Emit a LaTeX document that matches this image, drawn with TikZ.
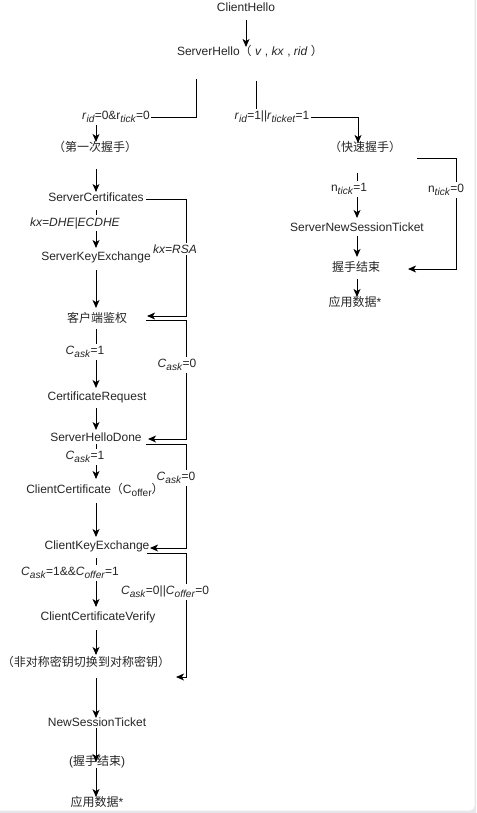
\documentclass[tikz,border=0pt]{standalone}
\usepackage{fontspec}
\setmainfont{Liberation Sans}
\newfontfamily\cjk{Noto Sans CJK SC}
\usetikzlibrary{arrows.meta,calc}
\newcommand\lsub[1]{\raisebox{-0.45ex}{\fontsize{7.6pt}{8pt}\selectfont #1}}
\definecolor{edgegray}{HTML}{E6E7EC}
\begin{document}
\begin{tikzpicture}[x=0.75pt,y=-0.75pt,
  txt/.style={font=\fontsize{9pt}{10.8pt}\selectfont, inner sep=0pt, text=black!85},
  lbl/.style={txt, fill=white, inner xsep=1pt, inner ysep=1.5pt},
  arr/.style={-{Stealth[length=6pt,width=5.2pt,inset=1.6pt]}, line width=0.75pt},
  ln/.style={line width=0.75pt}]
\useasboundingbox (0,0) rectangle (476,813);
\fill[white] (0,0) rectangle (476,813);
% faint frame at the right and bottom edges
\fill[edgegray] (474.6,0) -- (476,0) -- (476,813) -- (0,813) -- (0,810.6) -- (470,810.6) arc[start angle=90,end angle=0,radius=4.6] -- cycle;

% nodes
\node[txt] (ch) at (246,7) {ClientHello};
\node[txt] (sh) at (250,51) {ServerHello{\cjk （} \textit{v} , \textit{kx} , \textit{rid} {\cjk ）}};
\node[txt] (first) at (95,147) {\cjk （第一次握手）};
\node[txt] (fast) at (365,147) {\cjk （快速握手）};
\node[txt] (scert) at (96,197) {ServerCertificates};
\node[txt] (ske) at (96,257) {ServerKeyExchange};
\node[txt] (auth) at (97,318) {\cjk 客户端鉴权};
\node[txt] (creq) at (97,397) {CertificateRequest};
\node[txt] (shd) at (96,437) {ServerHelloDone};
\node[txt] (ccert) at (95,490) {ClientCertificate{\cjk （}C\lsub{offer}{\cjk ）}};
\node[txt] (cke) at (97,546) {ClientKeyExchange};
\node[txt] (ccv) at (98,617) {ClientCertificateVerify};
\node[txt] (switch) at (86,662) {\cjk （非对称密钥切换到对称密钥）};
\node[txt] (nst) at (97,722) {NewSessionTicket};
\node[txt] (hsend) at (97,762) {({\cjk 握手结束})};
\node[txt] (appdata) at (97,802) {{\cjk 应用数据}*};
\node[txt] (snst) at (357,227) {ServerNewSessionTicket};
\node[txt] (fend) at (356,267) {\cjk 握手结束};
\node[txt] (fapp) at (355,302) {{\cjk 应用数据}*};

% ClientHello -> ServerHello
\draw[arr] ($(ch)+(0,13)$) -- ($(ch)+(0,40)$);

% ServerHello -> first handshake
\draw[arr] ($(sh)+(-54,28)$) -- ($(sh)+(-54,67)$) -| ($(first)+(1,-5)$);
\node[lbl] at (116,117) {\textit{r}\lsub{\textit{id}}=0\&r\lsub{\textit{tick}}=0};

% ServerHello -> fast handshake
\draw[arr] ($(sh)+(6,30)$) -- ($(sh)+(6,67)$) -| ($(fast)+(-7,-4)$);
\node[lbl] at (272,117) {\textit{r}\lsub{\textit{id}}=1||\textit{r}\lsub{\textit{ticket}}=1};

% left column
\draw[arr] ($(first)+(1,22)$) -- ($(scert)+(0,-5)$);
\draw[arr] ($(scert)+(0,13)$) -- ($(ske)+(0,-9)$);
\node[lbl] at (75,223) {\textit{kx=DHE|ECDHE}};
\draw[arr] ($(scert)+(50,2)$) -| ($(auth)+(89,-2)$) -- ($(auth)+(50,-2)$);
\node[lbl] at (175,249) {\textit{kx=RSA}};
\draw[arr] ($(ske)+(0,13)$) -- ($(auth)+(-1,-10)$);
\draw[arr] ($(auth)+(-1,11)$) -- ($(creq)+(-1,-9)$);
\node[lbl] at (85,352) {\textit{C}\lsub{\textit{ask}}=1};
\draw[arr] ($(auth)+(49,2)$) -| ($(shd)+(90,2)$) -- ($(shd)+(52,2)$);
\node[lbl] at (177,365) {\textit{C}\lsub{\textit{ask}}=0};
\draw[arr] ($(creq)+(-1,11)$) -- ($(shd)+(0,-7)$);
\draw[arr] ($(shd)+(0,7)$) -- ($(ccert)+(1,-11)$);
\node[lbl] at (85,457) {\textit{C}\lsub{\textit{ask}}=1};
\draw[arr] ($(shd)+(50,7)$) -| ($(cke)+(89,2)$) -- ($(cke)+(53,2)$);
\node[lbl] at (176,478) {\textit{C}\lsub{\textit{ask}}=0};
\draw[arr] ($(ccert)+(1,13)$) -- ($(cke)+(-1,-9)$);
\draw[arr] ($(cke)+(-1,12)$) -- ($(ccv)+(-2,-10)$);
\node[lbl] at (70,573) {\textit{C}\lsub{\textit{ask}}=1\&\&\textit{C}\lsub{\textit{offer}}=1};
\draw[arr] ($(cke)+(50,7)$) -| ($(switch)+(100,15)$) -- ($(switch)+(90,15)$);
\node[lbl] at (165,592) {\textit{C}\lsub{\textit{ask}}=0||\textit{C}\lsub{\textit{offer}}=0};
\draw[arr] ($(ccv)+(-2,13)$) -- ($(switch)+(10,-7)$);
\draw[arr] ($(switch)+(10,16)$) -- ($(nst)+(-1,-4)$);
\draw[arr] ($(nst)+(-1,6)$) -- ($(hsend)+(-1,0)$);
\draw[arr] ($(hsend)+(-1,6)$) -- ($(appdata)+(-1,-5)$);

% right column
\draw[arr] ($(fast)+(-8,26)$) -- ($(snst)+(0,-9)$);
\node[lbl] at (349,189) {n\lsub{\textit{tick}}=1};
\draw[arr] ($(fast)+(52,12)$) -| ($(fend)+(100,2)$) -- ($(fend)+(52,2)$);
\node[lbl] at (446,190) {n\lsub{\textit{tick}}=0};
\draw[arr] ($(snst)+(0,9)$) -- ($(fend)+(1,-10)$);
\draw[arr] ($(fend)+(1,12)$) -- ($(fapp)+(2,-5)$);
\end{tikzpicture}
\end{document}
